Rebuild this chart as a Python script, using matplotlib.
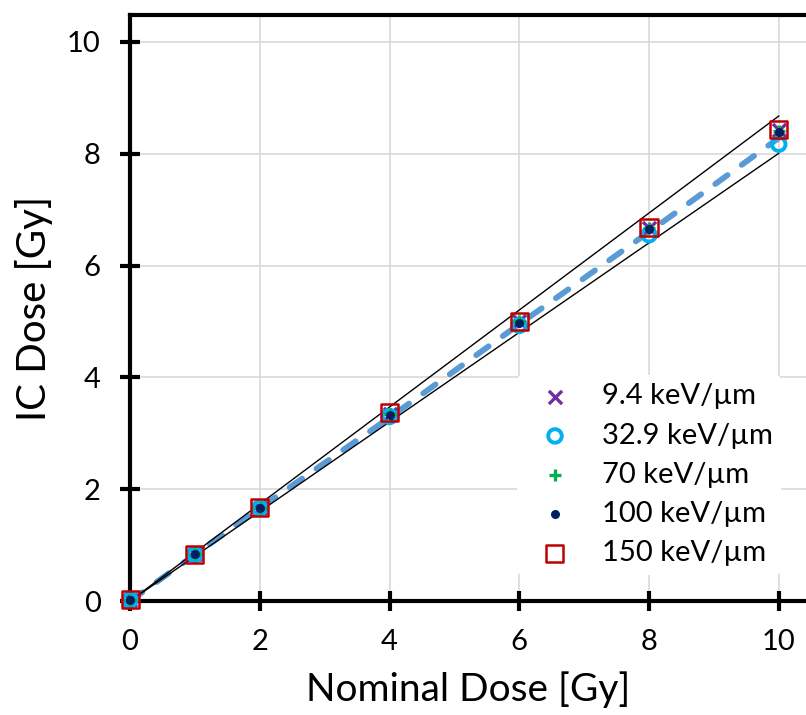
import matplotlib
matplotlib.use("Agg")
import matplotlib.pyplot as plt

plt.rcParams['font.family'] = ['Lato', 'DejaVu Sans']

nominal = [0, 1, 2, 4, 6, 8, 10]

let_labels = ['9.4 keV/µm', '32.9 keV/µm', '70 keV/µm', '100 keV/µm', '150 keV/µm']
dose_9_4 = [0.02, 0.84, 1.67, 3.35, 5.00, 6.68, 8.42]
dose_32_9 = [0.02, 0.83, 1.66, 3.30, 4.93, 6.55, 8.17]
dose_70 = [0.02, 0.84, 1.67, 3.34, 5.00, 6.67, 8.40]
dose_100 = [0.02, 0.84, 1.67, 3.33, 4.98, 6.66, 8.38]
dose_150 = [0.02, 0.84, 1.67, 3.38, 5.00, 6.68, 8.43]

# mean response curve (dashed) and +/-4% band around nominal calibration slope
mean_curve = [0.0, 0.83, 1.66, 3.28, 4.95, 6.60, 8.28]
slope = 0.834
band = [0.96, 1.04]

fig = plt.figure(figsize=(8.06, 7.15), dpi=100)
ax = fig.add_axes([0.1613, 0.1594, 0.8387, 0.8196])

ax.plot(nominal, mean_curve, linestyle=(0, (2.6, 3.0)), color='#5B9BD5', lw=4.2,
        dash_capstyle='round', zorder=2)
for f in band:
    ax.plot([nominal[0], nominal[-1]], [slope * f * nominal[0], slope * f * nominal[-1]],
            color='black', lw=1, zorder=3)

ax.scatter(nominal, dose_9_4, marker='x', s=90, color='#7030A0', linewidths=2.4, zorder=4,
           clip_on=False, label=let_labels[0])
ax.scatter(nominal, dose_32_9, marker='o', s=95, facecolors='none', edgecolors='#00B0F0', linewidths=2.8,
           zorder=4, clip_on=False, label=let_labels[1])
ax.scatter(nominal, dose_70, marker='+', s=80, color='#00B050', linewidths=2.4, zorder=5,
           clip_on=False, label=let_labels[2])
ax.scatter(nominal, dose_100, marker='o', s=30, color='#002060', zorder=6,
           clip_on=False, label=let_labels[3])
ax.scatter(nominal, dose_150, marker='s', s=150, facecolors='none', edgecolors='#C00000', linewidths=1.8,
           zorder=7, clip_on=False, label=let_labels[4])

ax.set_xlim(0, 10.42)
ax.set_ylim(0, 10.48)
ax.set_xticks([0, 2, 4, 6, 8, 10])
ax.set_yticks([0, 2, 4, 6, 8, 10])
ax.grid(True, color='#D9D9D9', lw=1.2)
ax.set_axisbelow(True)
ax.spines['right'].set_visible(False)
for s in ['left', 'bottom', 'top']:
    ax.spines[s].set_linewidth(3)
    ax.spines[s].set_zorder(3.5)
ax.tick_params(direction='inout', length=14, width=3, labelsize=21)
ax.tick_params(axis='x', pad=13)
ax.tick_params(axis='y', pad=14)

ax.set_xlabel('Nominal Dose [Gy]', fontsize=28, labelpad=12)
ax.set_ylabel('IC Dose [Gy]', fontsize=29, labelpad=10)

leg = ax.legend(loc='lower right', bbox_to_anchor=(0.985, 0.02), fontsize=21, frameon=True,
                facecolor='white', edgecolor='none', framealpha=1, handletextpad=0.6,
                labelspacing=0.45, borderpad=0.3)

fig.savefig('out.png', dpi=100)
